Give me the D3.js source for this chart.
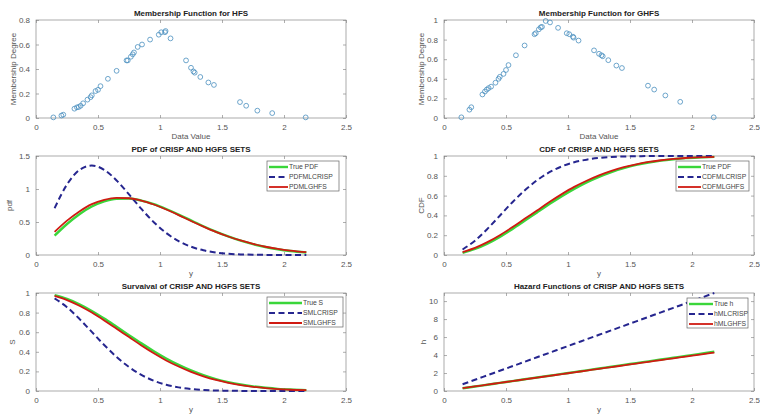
<!DOCTYPE html>
<html>
<head>
<meta charset="utf-8">
<script src="https://cdn.jsdelivr.net/npm/d3@7"></script>
<style>
  body { margin: 0; background: #fff; }
  svg { font-family: Arial, "Liberation Sans", sans-serif; }
</style>
</head>
<body>
<svg id="chart" width="760" height="414"></svg>
<script>
// membership scatter data
const dataValue = [0.14, 0.205, 0.22, 0.31, 0.33, 0.345, 0.36, 0.38, 0.415, 0.44, 0.45, 0.48, 0.5, 0.52,
  0.58, 0.65, 0.73, 0.74, 0.765, 0.78, 0.79, 0.82, 0.855, 0.92, 0.99, 1.01, 1.04, 1.045, 1.085,
  1.21, 1.25, 1.27, 1.28, 1.325, 1.39, 1.435, 1.645, 1.695, 1.785, 1.905, 2.175];
const hfsDegree = [0.005, 0.02, 0.027, 0.076, 0.087, 0.09, 0.1, 0.12, 0.15, 0.17, 0.185, 0.22, 0.23, 0.26,
  0.32, 0.385, 0.47, 0.47, 0.5, 0.52, 0.535, 0.58, 0.6, 0.64, 0.68, 0.7, 0.7, 0.71, 0.65,
  0.47, 0.41, 0.38, 0.37, 0.335, 0.29, 0.27, 0.13, 0.1, 0.06, 0.04, 0.005];
const ghfsDegree = [0.007, 0.085, 0.11, 0.24, 0.27, 0.29, 0.305, 0.32, 0.36, 0.4, 0.42, 0.45, 0.49, 0.54,
  0.64, 0.74, 0.855, 0.865, 0.905, 0.925, 0.93, 0.99, 0.975, 0.92, 0.865, 0.855, 0.83, 0.82, 0.79,
  0.69, 0.655, 0.64, 0.63, 0.59, 0.535, 0.51, 0.33, 0.29, 0.23, 0.165, 0.007];

// curves, read at these y values
const yGrid = [0.15, 0.25, 0.35, 0.45, 0.55, 0.65, 0.75, 0.85, 0.95, 1.05, 1.15, 1.25, 1.35, 1.45,
  1.55, 1.65, 1.75, 1.85, 1.95, 2.05, 2.18];
const pdfTrue = [0.293, 0.47, 0.619, 0.735, 0.813, 0.852, 0.855, 0.825, 0.771, 0.697, 0.613, 0.524, 0.436,
  0.354, 0.281, 0.217, 0.164, 0.121, 0.087, 0.061, 0.038];
const pdfCrisp = [0.709, 1.069, 1.288, 1.356, 1.291, 1.13, 0.919, 0.698, 0.497, 0.333, 0.211, 0.126, 0.071,
  0.038, 0.019, 0.009, 0.004, 0.002, 0.001, 0.0, 0.0];
const pdfGhfs = [0.35, 0.52, 0.66, 0.77, 0.835, 0.865, 0.86, 0.825, 0.765, 0.69, 0.605, 0.515, 0.43,
  0.35, 0.28, 0.22, 0.168, 0.125, 0.092, 0.066, 0.042];
const cdfTrue = [0.022, 0.061, 0.115, 0.183, 0.261, 0.345, 0.43, 0.514, 0.594, 0.668, 0.734, 0.79, 0.838,
  0.878, 0.91, 0.934, 0.953, 0.967, 0.978, 0.985, 0.991];
const cdfCrisp = [0.055, 0.145, 0.264, 0.397, 0.531, 0.652, 0.755, 0.836, 0.895, 0.937, 0.963, 0.98, 0.99,
  0.995, 0.998, 0.999, 1.0, 1.0, 1.0, 1.0, 1.0];
const cdfGhfs = [0.03, 0.072, 0.13, 0.2, 0.28, 0.365, 0.45, 0.535, 0.615, 0.688, 0.75, 0.805, 0.85,
  0.887, 0.916, 0.94, 0.957, 0.97, 0.98, 0.987, 0.992];
const survTrue = [0.978, 0.939, 0.885, 0.817, 0.739, 0.655, 0.57, 0.486, 0.406, 0.332, 0.267, 0.21, 0.162,
  0.122, 0.091, 0.066, 0.047, 0.033, 0.022, 0.015, 0.009];
const survCrisp = [0.945, 0.855, 0.736, 0.603, 0.469, 0.348, 0.245, 0.164, 0.105, 0.064, 0.037, 0.02, 0.011,
  0.005, 0.003, 0.001, 0.0, 0.0, 0.0, 0.0, 0.0];
const survGhfs = [0.97, 0.928, 0.87, 0.8, 0.72, 0.635, 0.55, 0.465, 0.385, 0.312, 0.25, 0.195, 0.15,
  0.113, 0.084, 0.06, 0.043, 0.03, 0.02, 0.013, 0.008];
const hazTrue = [0.3, 0.5, 0.7, 0.9, 1.1, 1.3, 1.5, 1.7, 1.9, 2.1, 2.3, 2.5, 2.7, 2.9, 3.1, 3.3, 3.5, 3.7,
  3.9, 4.1, 4.36];
const hazCrisp = [0.75, 1.25, 1.75, 2.25, 2.75, 3.25, 3.75, 4.25, 4.75, 5.25, 5.75, 6.25, 6.75, 7.25, 7.75,
  8.25, 8.75, 9.25, 9.75, 10.25, 10.9];
const hazGhfs = [0.32, 0.51, 0.71, 0.9, 1.1, 1.29, 1.49, 1.68, 1.88, 2.07, 2.27, 2.46, 2.66, 2.85, 3.05,
  3.24, 3.44, 3.63, 3.83, 4.02, 4.28];

const xTicks = [0, 0.5, 1, 1.5, 2, 2.5];

const svg = d3.select("svg#chart");
const colors = { truth: "#3ad63a", crisp: "#26268f", ghfs: "#d01a12" };
const cols = [[36, 346], [444, 754]];
const rows = [[20, 118], [156, 255], [293, 391]];

function makePanel(col, row, opts) {
  const [x0, x1] = cols[col];
  const [y0, y1] = rows[row];
  const x = d3.scaleLinear().domain([0, 2.5]).range([x0, x1]);
  const y = d3.scaleLinear().domain(opts.yDomain).range([y1, y0]);
  const g = svg.append("g");

  const fmt = (d) => String(d);
  // ticks inside the box on all four sides
  g.append("g")
    .attr("transform", `translate(0,${y1})`)
    .call(d3.axisBottom(x).tickValues(xTicks).tickFormat(fmt).tickSizeInner(-3).tickSizeOuter(0).tickPadding(6));
  g.append("g")
    .attr("transform", `translate(0,${y0})`)
    .call(d3.axisTop(x).tickValues(xTicks).tickFormat("").tickSizeInner(-3).tickSizeOuter(0));
  g.append("g")
    .attr("transform", `translate(${x0},0)`)
    .call(d3.axisLeft(y).tickValues(opts.yTicks).tickFormat(fmt).tickSizeInner(-3).tickSizeOuter(0).tickPadding(6));
  g.append("g")
    .attr("transform", `translate(${x1},0)`)
    .call(d3.axisRight(y).tickValues(opts.yTicks).tickFormat("").tickSizeInner(-3).tickSizeOuter(0));
  g.selectAll(".domain").remove();
  g.selectAll(".tick line").attr("stroke", "#777").attr("stroke-width", 0.6);
  g.selectAll(".tick text").attr("fill", "#555").style("font-size", "8px");

  g.append("rect")
    .attr("x", x0).attr("y", y0)
    .attr("width", x1 - x0).attr("height", y1 - y0)
    .attr("fill", "none").attr("stroke", "#888").attr("stroke-width", 0.7);

  // title and axis labels
  g.append("text")
    .attr("x", (x0 + x1) / 2).attr("y", y0 - 4)
    .attr("text-anchor", "middle")
    .attr("font-weight", "bold")
    .style("font-size", "8px")
    .attr("fill", "#222")
    .text(opts.title);
  g.append("text")
    .attr("x", (x0 + x1) / 2).attr("y", y1 + 21)
    .attr("text-anchor", "middle")
    .style("font-size", "8px")
    .attr("fill", "#555")
    .text(opts.xLabel);
  g.append("text")
    .attr("transform", `translate(${x0 - opts.yLabelOffset},${(y0 + y1) / 2}) rotate(-90)`)
    .attr("text-anchor", "middle")
    .style("font-size", "8px")
    .attr("fill", "#555")
    .text(opts.yLabel);

  return { g, x, y, x0, x1, y0, y1 };
}

function drawScatter(p, values) {
  p.g.append("g")
    .selectAll("circle")
    .data(dataValue.map((d, i) => [d, values[i]]))
    .join("circle")
    .attr("cx", (d) => p.x(d[0]))
    .attr("cy", (d) => p.y(d[1]))
    .attr("r", 2.4)
    .attr("fill", "none")
    .attr("stroke", "#4a8fbf")
    .attr("stroke-width", 0.8);
}

function drawCurves(p, series, labels, legendBox) {
  const line = d3.line()
    .x((d) => p.x(d[0]))
    .y((d) => p.y(d[1]))
    .curve(d3.curveMonotoneX);
  const styles = [
    { color: colors.truth, width: 2.4, dash: null },
    { color: colors.crisp, width: 2, dash: "6,3.5" },
    { color: colors.ghfs, width: 1.8, dash: null },
  ];
  series.forEach((vals, i) => {
    p.g.append("path")
      .datum(yGrid.map((d, j) => [d, vals[j]]))
      .attr("fill", "none")
      .attr("stroke", styles[i].color)
      .attr("stroke-width", styles[i].width)
      .attr("stroke-dasharray", styles[i].dash)
      .attr("d", line);
  });

  // legend
  const { lx, ly, w, lineLen } = legendBox;
  const lg = p.g.append("g").attr("transform", `translate(${lx},${ly})`);
  lg.append("rect")
    .attr("width", w).attr("height", 30)
    .attr("fill", "#fff").attr("stroke", "#666").attr("stroke-width", 0.7);
  labels.forEach((t, i) => {
    const cy = 6 + i * 10;
    lg.append("line")
      .attr("x1", 2).attr("x2", 2 + lineLen)
      .attr("y1", cy).attr("y2", cy)
      .attr("stroke", styles[i].color)
      .attr("stroke-width", styles[i].width)
      .attr("stroke-dasharray", styles[i].dash);
    lg.append("text")
      .attr("x", 3 + lineLen).attr("y", cy)
      .attr("dy", "0.35em")
      .style("font-size", "6.8px")
      .attr("fill", "#444")
      .text(t);
  });
}

const p1 = makePanel(0, 0, {
  yDomain: [0, 0.8], yTicks: [0, 0.2, 0.4, 0.6, 0.8],
  title: "Membership Function for HFS", xLabel: "Data Value", yLabel: "Membership Degree", yLabelOffset: 20,
});
drawScatter(p1, hfsDegree);

const p2 = makePanel(1, 0, {
  yDomain: [0, 1], yTicks: [0, 0.2, 0.4, 0.6, 0.8, 1],
  title: "Membership Function for GHFS", xLabel: "Data Value", yLabel: "Membership Degree", yLabelOffset: 20,
});
drawScatter(p2, ghfsDegree);

const p3 = makePanel(0, 1, {
  yDomain: [0, 1.5], yTicks: [0, 0.5, 1, 1.5],
  title: "PDF of CRISP AND HGFS SETS", xLabel: "y", yLabel: "pdf", yLabelOffset: 24,
});
drawCurves(p3, [pdfTrue, pdfCrisp, pdfGhfs], ["True PDF", "PDFMLCRISP", "PDMLGHFS"],
  { lx: 267, ly: 161, w: 72, lineLen: 19 });

const p4 = makePanel(1, 1, {
  yDomain: [0, 1], yTicks: [0, 0.2, 0.4, 0.6, 0.8, 1],
  title: "CDF of CRISP AND HGFS SETS", xLabel: "y", yLabel: "CDF", yLabelOffset: 20,
});
drawCurves(p4, [cdfTrue, cdfCrisp, cdfGhfs], ["True PDF", "CDFMLCRISP", "CDFMLGHFS"],
  { lx: 676, ly: 161, w: 73, lineLen: 23 });

const p5 = makePanel(0, 2, {
  yDomain: [0, 1], yTicks: [0, 0.2, 0.4, 0.6, 0.8, 1],
  title: "Survaival of CRISP AND HGFS SETS", xLabel: "y", yLabel: "S", yLabelOffset: 21,
});
drawCurves(p5, [survTrue, survCrisp, survGhfs], ["True S", "SMLCRISP", "SMLGHFS"],
  { lx: 267, ly: 297, w: 76, lineLen: 33 });

const p6 = makePanel(1, 2, {
  yDomain: [0, 10.9], yTicks: [0, 2, 4, 6, 8, 10],
  title: "Hazard Functions of CRISP AND HGFS SETS", xLabel: "y", yLabel: "h", yLabelOffset: 18,
});
drawCurves(p6, [hazTrue, hazCrisp, hazGhfs], ["True h", "hMLCRISP", "hMLGHFS"],
  { lx: 687, ly: 298, w: 61, lineLen: 24 });
</script>
</body>
</html>
